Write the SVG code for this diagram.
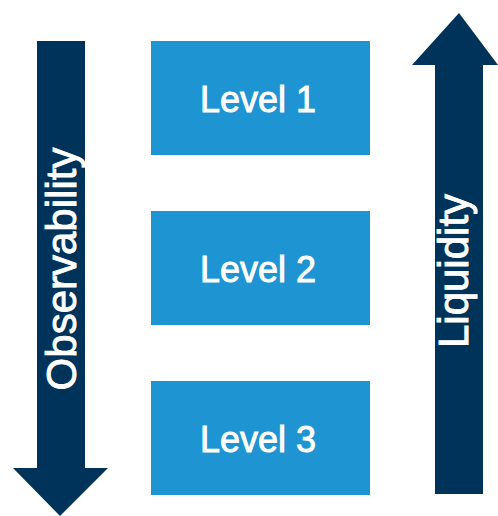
<svg xmlns="http://www.w3.org/2000/svg" width="498" height="516" viewBox="0 0 498 516">
  <style>
    .arrow { fill: #00335a; }
    .level { fill: #1e94d2; }
    .lbl { font-family: "Liberation Sans", Arial, sans-serif; fill: #ffffff; stroke: #ffffff; stroke-width: 0.9px; text-anchor: middle; }
    .lvl { font-size: 36px; }
    .axis { font-size: 42px; }
  </style>
  <rect width="498" height="516" fill="#ffffff"/>
  <g id="arrows">
    <g id="observability">
      <polygon class="arrow" points="37,41 85,41 85,468 108,468 60,516 13,468 37,468"/>
      <text class="lbl axis" transform="translate(76,269) rotate(-90)">Observability</text>
    </g>
    <g id="liquidity">
      <polygon class="arrow" points="459,13 498,65 483,65 483,494 435,494 435,65 412,65"/>
      <text class="lbl axis" transform="translate(468,271) rotate(-90)">Liquidity</text>
    </g>
  </g>
  <g id="level1">
    <rect class="level" x="151" y="41" width="219" height="114"/>
    <text class="lbl lvl" x="258" y="112">Level 1</text>
  </g>
  <g id="level2">
    <rect class="level" x="151" y="211" width="219" height="114"/>
    <text class="lbl lvl" x="258" y="282">Level 2</text>
  </g>
  <g id="level3">
    <rect class="level" x="151" y="381" width="219" height="114"/>
    <text class="lbl lvl" x="258" y="452">Level 3</text>
  </g>
</svg>
